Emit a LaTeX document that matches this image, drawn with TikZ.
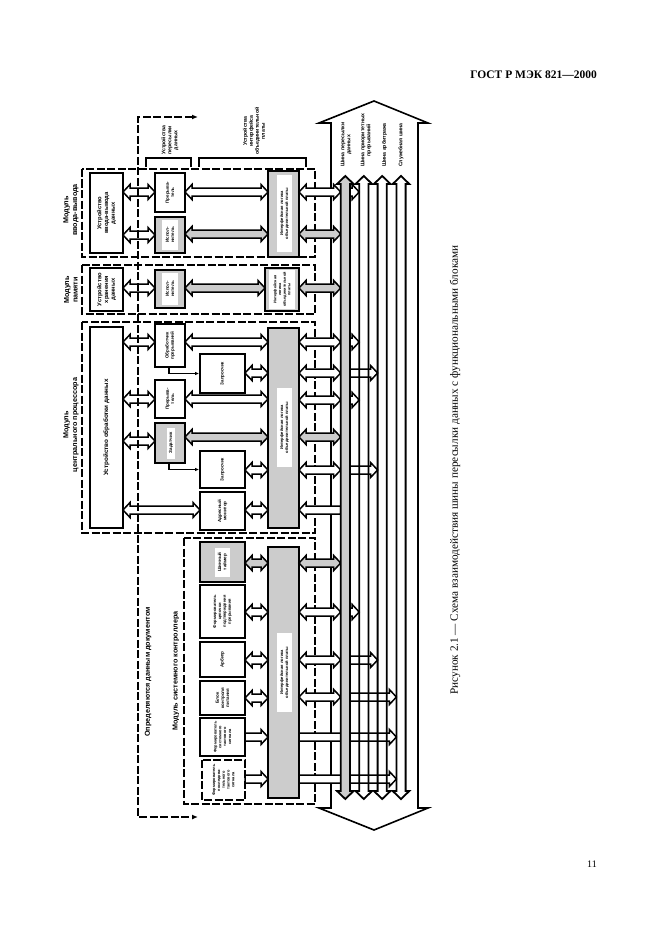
\documentclass[tikz,border=0pt]{standalone}
\usepackage{fontspec}
\setmainfont{Liberation Serif}
\setsansfont{Liberation Sans}
\usetikzlibrary{arrows.meta}
\definecolor{lg}{gray}{0.80}
\newcommand\myfa{\sffamily\bfseries\fontsize{4.5}{5.2}\selectfont}
\newcommand\myfb{\sffamily\bfseries\fontsize{5.8}{6.8}\selectfont}
\newcommand\myfc{\sffamily\bfseries\fontsize{7.2}{8.6}\selectfont}
\newcommand\myfd{\sffamily\bfseries\fontsize{7.2}{9}\selectfont}
\newcommand\myfe{\sffamily\bfseries\fontsize{4.1}{4.9}\selectfont}
\newcommand\myfg{\sffamily\bfseries\fontsize{5.2}{6}\selectfont}
\tikzset{
  blk/.style={draw, line width=1.8pt, rotate=90, inner sep=0pt, align=center, font=\myfa},
  lbl/.style={fill=white, rotate=90, inner sep=0pt, align=center, font=\myfa},
  modbox/.style={line width=1.3pt, dash pattern=on 8pt off 2.5pt},
  arrsty/.style={line width=1.5pt},
  bussty/.style={line width=1.8pt},
  rtext/.style={rotate=90, inner sep=0pt, align=center},
  conn/.style={line width=1.2pt, -{Latex[length=4pt,width=3.5pt]}},
}
\newcommand\hdarr[4]{\filldraw[arrsty,fill=#1] (#2,#4) -- ({#2+7},{#4-7.5}) -- ({#2+7},{#4-4}) -- ({#3-7},{#4-4}) -- ({#3-7},{#4-7.5}) -- (#3,#4) -- ({#3-7},{#4+7.5}) -- ({#3-7},{#4+4}) -- ({#2+7},{#4+4}) -- ({#2+7},{#4+7.5}) -- cycle;}
\newcommand\harR[4]{\filldraw[arrsty,fill=#1] (#2,{#4-4}) -- ({#3-7},{#4-4}) -- ({#3-7},{#4-7.5}) -- (#3,#4) -- ({#3-7},{#4+7.5}) -- ({#3-7},{#4+4}) -- (#2,{#4+4}) -- cycle;}
\newcommand\harL[4]{\filldraw[arrsty,fill=#1] (#3,{#4-4}) -- ({#2+7},{#4-4}) -- ({#2+7},{#4-7.5}) -- (#2,#4) -- ({#2+7},{#4+7.5}) -- ({#2+7},{#4+4}) -- (#3,{#4+4}) -- cycle;}
\newcommand\vbus[2]{\draw[bussty,#1] (#2,176) -- ({#2+8.3},184) -- ({#2+4.6},184) -- ({#2+4.6},791) -- ({#2+8.3},791) -- (#2,799) -- ({#2-8.3},791) -- ({#2-4.6},791) -- ({#2-4.6},184) -- ({#2-8.3},184) -- cycle;}
\begin{document}
\begin{tikzpicture}[x=1pt,y=-1pt]
\useasboundingbox (0,0) rectangle (661,936);
\fill[white] (0,0) rectangle (661,936);

% header, page number, caption
\node[anchor=base east, font=\bfseries\fontsize{11.5}{13}\selectfont, inner sep=0] (hdr) at (597,79) {ГОСТ Р МЭК 821—2000};
\node[anchor=base east, font=\fontsize{10}{12}\selectfont, inner sep=0] (pg) at (597,867) {11};
\node[rtext, font=\fontsize{11.2}{13}\selectfont] (cap) at (455,470) {Рисунок 2.1 — Схема взаимодействия шины пересылки данных с функциональными блоками};

% outer bus bundle arrow
\draw[line width=1.6pt] (331,808) -- (331,123) -- (319,123) -- (374,101) -- (428,123) -- (418,123) -- (418,808) -- (428,808) -- (374,830) -- (319,808) -- cycle;

% module boxes
\draw[modbox] (82,169) rectangle (315,257);
\draw[modbox] (82,265) rectangle (315,314);
\draw[modbox] (82,322) rectangle (315,533);
\draw[modbox] (184,538) rectangle (315,804);

% top brackets
\draw[line width=1.5pt] (146,167) -- (146,158) -- (191,158) -- (191,167);
\draw[line width=1.5pt] (199,167) -- (199,158) -- (306,158) -- (306,167);
\node[rtext, anchor=west, font=\myfg] (tl1) at (170,155) {Устройства\\пересылки\\данных};
\node[rtext, anchor=west, font=\myfg] (tl2) at (254,155) {Устройства\\интерфейса\\объединительной\\платы};

% module labels
\node[rtext, font=\myfc] (lio) at (71,210) {Модуль\\ввода-вывода};
\node[rtext, font=\myfc] (lmem) at (71,290) {Модуль\\памяти};
\node[rtext, font=\myfc] (lcpu) at (71,425) {Модуль\\центрального процессора};
\node[rtext, font=\myfc] (lsc) at (176,671) {Модуль системного контроллера};
\node[rtext, font=\myfd] (ldef) at (148,672) {Определяются данным документом};

% ---------- I/O module
\node[blk, minimum width=80pt, minimum height=33pt, font=\myfb] (iodev) at (106.5,213) {Устройство\\ввода-вывода\\данных};
\node[blk, minimum width=39pt, minimum height=30pt] (ioint) at (170,192.5) {Прерыва-\\тель};
\node[blk, fill=lg, minimum width=36pt, minimum height=30pt] (ioslv) at (170,235) {};
\node[lbl, minimum width=30pt, minimum height=16pt] (ioslvl) at (ioslv) {Испол-\\нитель};
\node[blk, fill=lg, minimum width=86pt, minimum height=31pt] (ioil) at (283.5,214) {};
\node[lbl, minimum width=77pt, minimum height=15pt, font=\myfe] (ioill) at (284.5,213.5) {Интерфейсная логика\\объединительной платы};

% ---------- Memory module
\node[blk, minimum width=43pt, minimum height=33pt, font=\myfb] (memdev) at (106.5,289.5) {Устройство\\хранения\\данных};
\node[blk, fill=lg, minimum width=38pt, minimum height=30pt] (memslv) at (170,289) {};
\node[lbl, minimum width=32pt, minimum height=16pt] (memslvl) at (memslv) {Испол-\\нитель};
\node[blk, fill=lg, minimum width=43pt, minimum height=34pt] (memil) at (282,289.5) {};
\node[lbl, minimum width=39pt, minimum height=26pt, font=\sffamily\bfseries\fontsize{3.8}{4.7}\selectfont] (memill) at (282,289.5) {Интерфейсная\\логика\\объединительной\\платы};

% ---------- CPU module
\node[blk, minimum width=201pt, minimum height=33pt, font=\sffamily\bfseries\fontsize{6.3}{7.5}\selectfont] (cpudev) at (106.5,427.5) {Устройство обработки данных};
\node[blk, minimum width=43pt, minimum height=30pt] (cpuih) at (170,345.5) {Обработчик\\прерываний};
\node[blk, minimum width=38pt, minimum height=30pt] (cpuint) at (170,399) {Прерыва-\\тель};
\node[blk, fill=lg, minimum width=40pt, minimum height=30pt] (cpumst) at (170,443) {};
\node[lbl, minimum width=31pt, minimum height=8pt] (cpumstl) at (171,443) {Задатчик};
\node[blk, minimum width=39pt, minimum height=45pt] (cpureqa) at (222.5,373.5) {Запросчик};
\node[blk, minimum width=37pt, minimum height=45pt] (cpureqb) at (222.5,469.5) {Запросчик};
\node[blk, minimum width=38pt, minimum height=45pt] (cpulm) at (222.5,511) {Адресный\\монитор};
\node[blk, fill=lg, minimum width=200pt, minimum height=31pt] (cpuil) at (283.5,428) {};
\node[lbl, minimum width=79pt, minimum height=15pt, font=\myfe] (cpuill) at (284.5,427.5) {Интерфейсная логика\\объединительной платы};
\draw[conn] ([xshift=-1pt]cpuih.west) |- (cpureqa.north);
\draw[conn] ([xshift=-1pt]cpumst.west) |- (cpureqb.north);

% ---------- System controller module
\node[blk, fill=lg, minimum width=40pt, minimum height=45pt] (bt) at (222.5,562) {};
\node[lbl, minimum width=29pt, minimum height=15pt] (btl) at (bt) {Шинный\\таймер};
\node[blk, minimum width=53pt, minimum height=45pt, font=\myfe] (iack) at (222.5,611.5) {Формирователь\\цепочки\\подтверждения\\прерывания};
\node[blk, minimum width=35pt, minimum height=45pt] (arb) at (222.5,659.5) {Арбитр};
\node[blk, minimum width=34pt, minimum height=45pt] (pwr) at (222.5,698) {Блок\\контроля\\питания};
\node[blk, minimum width=38pt, minimum height=45pt, font=\sffamily\bfseries\fontsize{3.9}{4.8}\selectfont] (sclk) at (222.5,737) {Формирователь\\системного\\тактового\\сигнала};
\node[blk, modbox, minimum width=40pt, minimum height=43pt, font=\sffamily\bfseries\fontsize{3.9}{4.8}\selectfont] (serclk) at (223.5,780) {Формирователь\\последова-\\тельного\\тактового\\сигнала};
\node[blk, fill=lg, minimum width=251pt, minimum height=31pt] (scil) at (283.5,672.5) {};
\node[lbl, minimum width=79pt, minimum height=15pt, font=\myfe] (scill) at (284.5,672.5) {Интерфейсная логика\\объединительной платы};

% ---------- horizontal arrows
% I/O
\hdarr{white}{123}{155}{192}
\hdarr{white}{123}{155}{235}
\hdarr{white}{185}{268}{192}
\hdarr{lg}{185}{268}{234}
\hdarr{white}{299}{340.7}{192} \harR{white}{350}{359.2}{192}
\hdarr{lg}{299}{340.7}{234}
% memory
\hdarr{white}{123}{155}{288}
\hdarr{lg}{185}{265}{288}
\hdarr{lg}{299}{340.7}{288}
% CPU
\hdarr{white}{123}{155}{342}
\hdarr{white}{123}{155}{399}
\hdarr{white}{123}{155}{441}
\hdarr{white}{123}{200}{510}
\hdarr{white}{185}{268}{342}
\hdarr{white}{245}{268}{373}
\hdarr{white}{185}{268}{399}
\hdarr{lg}{185}{268}{437}
\hdarr{white}{245}{268}{470}
\hdarr{white}{245}{268}{510}
\hdarr{white}{299}{340.7}{342} \harR{white}{350}{359.2}{342}
\hdarr{white}{299}{340.7}{373} \harR{white}{350}{377.6}{373}
\hdarr{white}{299}{340.7}{400} \harR{white}{350}{359.2}{400}
\hdarr{lg}{299}{340.7}{437}
\hdarr{white}{299}{340.7}{470} \harR{white}{350}{377.6}{470}
\harL{white}{299}{340.7}{510}
% system controller
\hdarr{lg}{245}{268}{563}
\hdarr{lg}{299}{340.7}{563}
\hdarr{white}{245}{268}{612}
\hdarr{white}{299}{340.7}{612} \harR{white}{350}{359.2}{612}
\hdarr{white}{245}{268}{660}
\hdarr{white}{299}{340.7}{660} \harR{white}{350}{377.6}{660}
\hdarr{white}{245}{268}{698}
\hdarr{white}{299}{340.7}{697} \harR{white}{350}{396.4}{697}
\harR{white}{245}{268}{737}
\harR{white}{299}{396.4}{737}
\harR{white}{245}{268}{779}
\harR{white}{299}{396.4}{779}

% ---------- buses
\vbus{fill=lg}{345.3}
\vbus{}{363.8}
\vbus{}{382.2}
\vbus{}{401}
\node[rtext, anchor=west, font=\myfg] (b1) at (346,167) {Шина пересылки\\данных};
\node[rtext, anchor=west, font=\myfg] (b2) at (366,167) {Шина приоритетных\\прерываний};
\node[rtext, anchor=west, font=\myfg] (b3) at (384.5,167) {Шина арбитража};
\node[rtext, anchor=west, font=\myfg] (b4) at (401,167) {Служебная шина};

% ---------- "defined by this document" line
\coordinate (dtop) at (198,117);
\coordinate (dbot) at (198,817);
\draw[line width=1.3pt, dash pattern=on 8pt off 2.5pt, {Latex[length=6pt,width=5pt]}-{Latex[length=6pt,width=5pt]}] (dtop) -- (138,117) -- (138,817) -- (dbot);
\end{tikzpicture}
\end{document}
